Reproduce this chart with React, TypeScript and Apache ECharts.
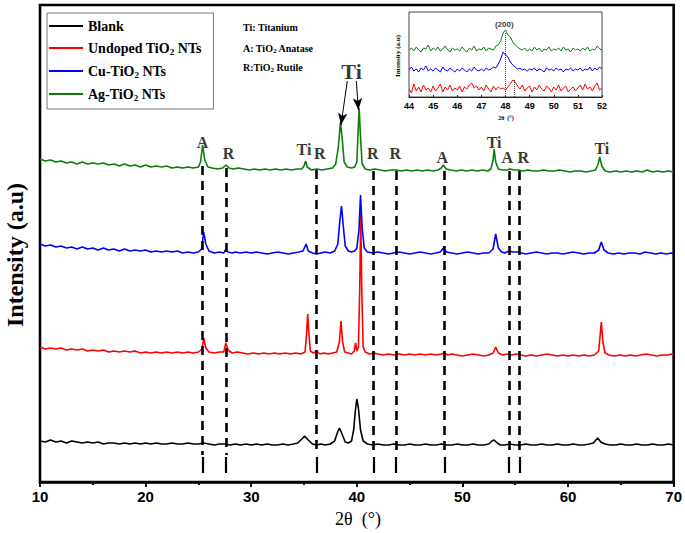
import React, { useEffect, useRef } from "react";
import * as echarts from "echarts";

// ---- Main XRD patterns (2θ, stacked intensity a.u.) ----
const blankData: number[][] = [
  [10,41],[10.5,40],[11,42],[11.5,40],[12,41],[12.5,39],[13,41],[13.5,40],[14,39],[14.5,40],[15,39],[15.5,40],[16,38],[16.5,39],[17,39],[17.5,38],[18,39],[18.5,38],[19,39],[19.5,38],[20,39],[20.5,38],[21,39],[21.5,38],[22,38],[22.5,39],[23,38],[23.5,38],[24,39],[24.5,38],[25,38],[25.5,39],[26,38],[26.5,37],[27,38],[27.5,38],[28,37],[28.5,38],[29,37],[29.5,38],[30,37],[30.5,38],[31,37],[31.5,38],[32,37],[32.5,37],[33,38],[33.5,37],[34,38],[34.4,39],[34.8,43],[35.05,46],[35.4,42],[35.8,38],[36.2,37],[36.6,38],[37,37],[37.5,38],[37.9,41],[38.15,49],[38.35,54],[38.6,48],[38.9,40],[39.2,39],[39.5,41],[39.7,52],[39.85,70],[40.0,83],[40.15,74],[40.35,52],[40.6,41],[41,38],[41.5,37],[42,38],[42.5,37],[43,37],[43.5,38],[44,37],[44.5,37],[45,38],[45.5,37],[46,37],[46.5,38],[47,37],[47.5,37],[48,38],[48.5,37],[49,37],[49.5,38],[50,37],[50.5,37],[51,38],[51.5,37],[52,37],[52.5,38],[52.8,41],[53.0,42],[53.3,39],[53.6,37],[54,37],[54.5,38],[55,37],[55.5,37],[56,38],[56.5,37],[57,37],[57.5,38],[58,37],[58.5,37],[59,38],[59.5,37],[60,37],[60.5,38],[61,37],[61.5,37],[62,38],[62.4,39],[62.8,44],[63.1,40],[63.5,38],[64,37],[64.5,37],[65,38],[65.5,37],[66,37],[66.5,38],[67,37],[67.5,37],[68,38],[68.5,37],[69,37],[69.5,38],[70,37]
];

const undopedData: number[][] = [
  [10,135],[10.5,133],[11,134],[11.5,133],[12,134],[12.5,132],[13,133],[13.5,132],[14,133],[14.5,131],[15,132],[15.5,131],[16,132],[16.5,130],[17,131],[17.5,130],[18,131],[18.5,130],[19,131],[19.5,129],[20,130],[20.5,129],[21,130],[21.5,129],[22,130],[22.5,129],[23,130],[23.5,129],[24,130],[24.5,129],[25,130],[25.35,133],[25.5,144],[25.7,134],[26,130],[26.5,129],[27,130],[27.4,130],[27.6,139],[27.8,132],[28.2,129],[28.7,130],[29.2,129],[29.7,128],[30.2,129],[30.7,128],[31.2,129],[31.7,128],[32.2,129],[32.7,128],[33.2,129],[33.7,128],[34.2,129],[34.7,128],[35.1,130],[35.25,150],[35.35,168],[35.45,150],[35.6,131],[35.9,129],[36.2,131],[36.5,128],[36.9,129],[37.3,128],[37.7,129],[38.1,130],[38.35,140],[38.5,161],[38.65,140],[38.85,130],[39.2,129],[39.5,128],[39.75,131],[39.88,139],[40.0,131],[40.15,135],[40.27,190],[40.37,268],[40.47,190],[40.6,135],[40.8,130],[41.2,128],[41.6,129],[42,128],[42.5,127],[43,128],[43.5,127],[44,128],[44.5,127],[45,128],[45.5,127],[46,128],[46.5,127],[47,128],[47.5,127],[48,128],[48.3,129],[48.6,127],[49,128],[49.5,127],[50,126],[50.5,127],[51,128],[51.5,127],[52,126],[52.5,127],[52.9,129],[53.15,135],[53.4,129],[53.8,127],[54.3,128],[54.7,127],[55.1,128],[55.5,127],[56,126],[56.5,127],[57,126],[57.5,127],[58,128],[58.5,127],[59,126],[59.5,127],[60,126],[60.5,127],[61,126],[61.5,127],[62,126],[62.5,127],[62.9,131],[63.05,148],[63.15,160],[63.3,140],[63.5,129],[63.9,127],[64.4,126],[64.9,127],[65.4,126],[65.9,127],[66.4,126],[66.9,127],[67.4,128],[67.9,127],[68.4,126],[68.9,127],[69.4,127],[69.9,128],[70,127]
];

const cuData: number[][] = [
  [10,238],[10.5,236],[11,237],[11.5,235],[12,236],[12.5,234],[13,235],[13.5,233],[14,235],[14.5,233],[15,234],[15.5,232],[16,234],[16.5,232],[17,233],[17.5,231],[18,233],[18.5,231],[19,232],[19.5,231],[20,232],[20.5,230],[21,231],[21.5,230],[22,231],[22.5,230],[23,231],[23.5,229],[24,230],[24.5,229],[25,230],[25.3,233],[25.5,250],[25.7,238],[26,231],[26.5,229],[27,230],[27.4,229],[27.6,233],[27.8,230],[28.2,229],[28.5,230],[29,229],[29.5,230],[30,229],[30.5,230],[31,229],[31.5,228],[32,229],[32.5,230],[33,229],[33.5,228],[34,229],[34.5,230],[34.9,231],[35.2,238],[35.4,231],[35.8,229],[36.2,228],[36.6,229],[37,230],[37.5,229],[37.9,231],[38.2,238],[38.4,262],[38.55,276],[38.7,258],[38.9,236],[39.2,231],[39.5,230],[39.8,231],[40.0,234],[40.2,252],[40.35,287],[40.5,255],[40.7,234],[41,230],[41.5,229],[42,230],[42.5,229],[43,228],[43.5,229],[44,230],[44.5,229],[45,228],[45.5,229],[46,230],[46.5,229],[47,228],[47.5,229],[47.9,230],[48.2,234],[48.5,230],[49,229],[49.5,228],[50,229],[50.5,230],[51,229],[51.5,228],[52,229],[52.5,229],[52.9,233],[53.15,248],[53.4,234],[53.7,230],[54,229],[54.4,231],[54.8,230],[55.2,230],[55.6,229],[56,228],[56.5,229],[57,230],[57.5,229],[58,228],[58.5,229],[59,229],[59.5,228],[60,229],[60.5,230],[61,229],[61.5,228],[62,229],[62.5,229],[62.9,232],[63.15,240],[63.4,232],[63.8,229],[64.3,228],[64.8,229],[65.3,228],[65.8,229],[66.3,229],[66.8,228],[67.3,230],[67.8,229],[68.3,228],[68.8,229],[69.3,228],[69.8,229],[70,228]
];

const agData: number[][] = [
  [10,323],[10.5,321],[11,322],[11.5,320],[12,321],[12.5,319],[13,320],[13.5,318],[14,320],[14.5,318],[15,319],[15.5,318],[16,319],[16.5,317],[17,318],[17.5,316],[18,318],[18.5,316],[19,317],[19.5,315],[20,317],[20.5,315],[21,316],[21.5,315],[22,316],[22.5,314],[23,315],[23.5,314],[24,315],[24.5,314],[25,315],[25.2,320],[25.4,337],[25.6,322],[25.9,315],[26.3,314],[26.8,313],[27.3,314],[27.6,317],[27.9,314],[28.3,313],[28.8,314],[29.3,313],[29.8,312],[30.3,313],[30.8,312],[31.3,313],[31.8,312],[32.3,313],[32.8,312],[33.3,313],[33.8,312],[34.3,313],[34.8,313],[35.0,316],[35.15,321],[35.3,315],[35.7,312],[36.2,313],[36.7,312],[37.2,313],[37.7,314],[38.0,318],[38.25,335],[38.45,360],[38.6,345],[38.8,320],[39.1,315],[39.5,314],[39.8,315],[40.0,320],[40.1,345],[40.22,374],[40.35,345],[40.5,318],[40.8,313],[41.2,312],[41.7,313],[42.2,312],[42.7,311],[43.2,312],[43.7,312],[44.2,311],[44.7,312],[45.2,311],[45.7,312],[46.2,311],[46.7,312],[47.2,311],[47.7,312],[48.0,314],[48.2,317],[48.45,313],[48.9,312],[49.4,311],[49.9,312],[50.4,311],[50.9,312],[51.4,311],[51.9,312],[52.4,311],[52.7,313],[52.9,322],[53.0,333],[53.15,320],[53.4,313],[53.8,312],[54.2,312],[54.5,313],[54.9,312],[55.3,312],[55.7,311],[56.2,312],[56.7,311],[57.2,311],[57.7,312],[58.2,311],[58.7,311],[59.2,312],[59.7,311],[60.2,310],[60.7,311],[61.2,311],[61.7,310],[62.2,311],[62.6,312],[62.85,318],[63.0,325],[63.2,316],[63.5,311],[64,310],[64.5,311],[65,310],[65.5,311],[66,310],[66.5,311],[67,310],[67.5,312],[68,310],[68.5,311],[69,310],[69.5,311],[70,310]
];

// reference phase lines: [2θ, top of dashed line]
const refLines: number[][] = [
  [25.4,316],[27.6,314],[36.2,312],[41.6,311],[43.7,311],[48.3,311],[54.4,311],[55.4,311]
];
// phase labels: [2θ, y, text]
const phaseLabels: [number, number, string][] = [
  [25.4,340,"A"],[27.85,329,"R"],[35.0,333,"Ti"],[36.5,329,"R"],[41.5,329,"R"],[43.65,329,"R"],
  [48.1,325,"A"],[53.0,340,"Ti"],[54.25,325,"A"],[55.75,325,"R"],[63.2,334,"Ti"]
];
const bigTiLabel: [number, number, string] = [39.5,411,"Ti"];
// arrows from big Ti label to the two Ti peaks: [x0,y0,x1,y1]
const tiArrows: number[][] = [
  [39.1,401,38.5,357],[39.95,401,40.15,372]
];

// ---- Inset (200) region ----
const insetX: number[] = Array.from({ length: 81 }, (_, i) => Math.round((44 + i * 0.1) * 10) / 10);
const insetAg: number[] = [
  47,49,46,50,47,45,49,48,52,46, 49,47,50,46,48,51,47,45,49,47, 48,46,50,47,45,49,47,51,46,48,
  47,50,46,49,48,47,51,52,56,64, 67,62,60,55,52,50,48,47,49,46, 48,46,50,47,49,45,48,47,50,46,
  48,47,49,46,50,47,48,45,49,47, 48,46,49,47,50,46,48,47,51,48, 47
];
const insetCu: number[] = [
  27,30,26,28,25,29,27,31,26,28, 26,29,27,25,30,27,26,29,27,25, 28,26,29,27,25,28,26,30,27,26,
  28,26,29,27,28,30,29,33,38,45, 42,40,35,32,30,28,29,27,28,26, 28,27,29,26,28,27,25,29,27,28,
  26,29,27,28,25,28,27,29,26,28, 27,29,26,28,27,30,26,29,27,30, 28
];
const insetUndoped: number[] = [
  8,4,13,6,10,5,12,7,9,5, 11,6,9,13,5,10,7,12,6,9, 7,11,5,10,8,12,14,9,11,7,
  10,6,12,8,5,11,7,10,8,9, 7,10,13,17,15,11,8,12,6,9, 11,5,10,7,12,8,6,11,9,5,
  10,7,12,6,9,11,5,8,10,6, 9,12,7,13,8,10,6,11,14,7, 9
];
const insetRefLines: number[][] = [[47.97,64],[48.35,17]];
const insetPeakLabel: [number, number, string] = [47.95,73,"(200)"];

const SERIF = "'Liberation Serif', 'Times New Roman', serif";
const SANS = "'Liberation Sans', Arial, sans-serif";
const COLORS = { blank: "#000000", undoped: "#ff0000", cu: "#0000ff", ag: "#0a7d0a" };

export default function App() {
  const ref = useRef<HTMLDivElement>(null);
  useEffect(() => {
    if (!ref.current) return;
    const chart = echarts.init(ref.current, undefined, { renderer: "svg" });

    const mainLine = (name: string, data: number[][], color: string) => ({
      name, type: "line", xAxisIndex: 0, yAxisIndex: 0, data, showSymbol: false, symbol: "none",
      lineStyle: { color, width: 1.6 }, itemStyle: { color }, z: 3,
    });
    const insetLine = (name: string, vals: number[], color: string) => ({
      name: name + " inset", type: "line", xAxisIndex: 1, yAxisIndex: 1,
      data: insetX.map((x, i) => [x, vals[i]]), showSymbol: false, symbol: "none",
      lineStyle: { color, width: 1 }, z: 3,
    });

    const markLineData: any[] = [];
    refLines.forEach(([x, top]) => {
      markLineData.push([
        { coord: [x, top], symbol: "none", lineStyle: { type: [9, 6], width: 2.6, color: "#000" } },
        { coord: [x, 27], symbol: "none" },
      ]);
      markLineData.push([
        { coord: [x, 25], symbol: "none", lineStyle: { type: "solid", width: 2.2, color: "#000" } },
        { coord: [x, 9], symbol: "none" },
      ]);
    });
    tiArrows.forEach(([x0, y0, x1, y1]) => {
      markLineData.push([
        { coord: [x0, y0], symbol: "none", lineStyle: { type: "solid", width: 1, color: "#000" } },
        { coord: [x1, y1], symbol: "arrow", symbolSize: [7, 12] },
      ]);
    });

    const option: any = {
      animation: false,
      backgroundColor: "#ffffff",
      grid: [
        { left: 40, right: 10, top: 5, bottom: 51, show: true, borderColor: "#000", borderWidth: 2.6, backgroundColor: "transparent" },
        { left: 409, right: 83, top: 12, bottom: 436, show: true, borderColor: "#444", borderWidth: 1, backgroundColor: "#fff" },
      ],
      legend: {
        data: ["Blank", "Undoped TiO2 NTs", "Cu-TiO2 NTs", "Ag-TiO2 NTs"],
        orient: "vertical", left: 47, top: 13,
        padding: [6, 12, 7, 2], itemGap: 8,
        itemWidth: 34, itemHeight: 2, icon: "rect",
        borderColor: "#777", borderWidth: 1, backgroundColor: "#fff",
        formatter: (n: string) => n.replace("TiO2", "TiO{s|2}"),
        textStyle: {
          fontFamily: SERIF, fontWeight: "bold", fontSize: 14, color: "#000",
          rich: { s: { fontFamily: SERIF, fontWeight: "bold", fontSize: 9, color: "#000", padding: [7, 0, 0, 0] } },
        },
      },
      xAxis: [
        {
          gridIndex: 0, type: "value", min: 10, max: 70, interval: 10,
          axisLine: { show: true, lineStyle: { color: "#000", width: 2.6 } },
          axisTick: { show: true, length: 5, lineStyle: { color: "#000", width: 2 } },
          minorTick: { show: true, splitNumber: 2, length: 3, lineStyle: { color: "#000", width: 2 } },
          splitLine: { show: false },
          axisLabel: { fontFamily: SANS, fontWeight: "bold", fontSize: 15, color: "#000", margin: 7 },
        },
        {
          gridIndex: 1, type: "value", min: 44, max: 52, interval: 1,
          axisLine: { show: true, lineStyle: { color: "#222", width: 1 } },
          axisTick: { show: true, inside: true, length: 2, lineStyle: { color: "#222", width: 1 } },
          splitLine: { show: false },
          axisLabel: { fontFamily: SANS, fontWeight: "bold", fontSize: 9, color: "#000", margin: 4 },
        },
      ],
      yAxis: [
        { gridIndex: 0, type: "value", min: 0, max: 477, show: false },
        { gridIndex: 1, type: "value", min: 0, max: 85, show: false },
      ],
      series: [
        mainLine("Blank", blankData, COLORS.blank),
        mainLine("Undoped TiO2 NTs", undopedData, COLORS.undoped),
        mainLine("Cu-TiO2 NTs", cuData, COLORS.cu),
        mainLine("Ag-TiO2 NTs", agData, COLORS.ag),
        {
          name: "phase labels", type: "scatter", xAxisIndex: 0, yAxisIndex: 0,
          symbolSize: 0, itemStyle: { color: "transparent" }, silent: true, z: 5,
          data: [
            ...phaseLabels.map((p) => ({ value: p })),
            { value: bigTiLabel, label: { fontSize: 22, fontWeight: "bold" } },
          ],
          label: {
            show: true, position: "inside", color: "#000", fontFamily: SERIF, fontWeight: "bold", fontSize: 16,
            formatter: (p: any) => p.value[2],
          },
          markLine: { silent: true, animation: false, label: { show: false }, symbol: "none", data: markLineData },
        },
        insetLine("Undoped", insetUndoped, COLORS.undoped),
        insetLine("Cu", insetCu, COLORS.cu),
        insetLine("Ag", insetAg, COLORS.ag),
        {
          name: "inset label", type: "scatter", xAxisIndex: 1, yAxisIndex: 1,
          symbolSize: 0, itemStyle: { color: "transparent" }, silent: true, z: 5,
          data: [{ value: insetPeakLabel }],
          label: {
            show: true, position: "inside", color: "#000", fontFamily: SANS, fontWeight: "bold", fontSize: 8,
            formatter: (p: any) => p.value[2],
          },
          markLine: {
            silent: true, animation: false, label: { show: false }, symbol: "none",
            lineStyle: { type: "dotted", color: "#444", width: 1 },
            data: insetRefLines.map(([x, top]) => [{ coord: [x, top] }, { coord: [x, 0] }]),
          },
        },
      ],
      graphic: [
        { type: "text", left: 243, top: 22, style: { text: "Ti: Titanium", font: `bold 10px ${SERIF}`, fill: "#000" } },
        {
          type: "text", left: 243, top: 43,
          style: {
            text: "A: TiO{s|2} Anatase", font: `bold 10px ${SERIF}`, fill: "#000",
            rich: { s: { fontFamily: SERIF, fontWeight: "bold", fontSize: 7, padding: [5, 0, 0, 0] } },
          },
        },
        {
          type: "text", left: 243, top: 62,
          style: {
            text: "R:TiO{s|2} Rutile", font: `bold 10px ${SERIF}`, fill: "#000",
            rich: { s: { fontFamily: SERIF, fontWeight: "bold", fontSize: 7, padding: [5, 0, 0, 0] } },
          },
        },
        {
          type: "text", x: 15, y: 255, rotation: Math.PI / 2,
          style: { text: "Intensity (a.u)", font: `bold 24px ${SERIF}`, fill: "#000", align: "center", verticalAlign: "middle" },
        },
        {
          type: "text", x: 358, y: 519,
          style: { text: "2θ  (°)", font: `18px ${SERIF}`, fill: "#000", align: "center", verticalAlign: "middle" },
        },
        {
          type: "text", x: 398, y: 56, rotation: Math.PI / 2,
          style: { text: "Intensity (a.u)", font: `bold 7px ${SERIF}`, fill: "#000", align: "center", verticalAlign: "middle" },
        },
        {
          type: "text", x: 506, y: 118,
          style: { text: "2θ  (°)", font: `bold 6px ${SERIF}`, fill: "#000", align: "center", verticalAlign: "middle" },
        },
      ],
    };
    chart.setOption(option);
    return () => chart.dispose();
  }, []);

  return <div ref={ref} style={{ position: "fixed", left: 0, top: 0, width: 685, height: 533, background: "#fff" }} />;
}
